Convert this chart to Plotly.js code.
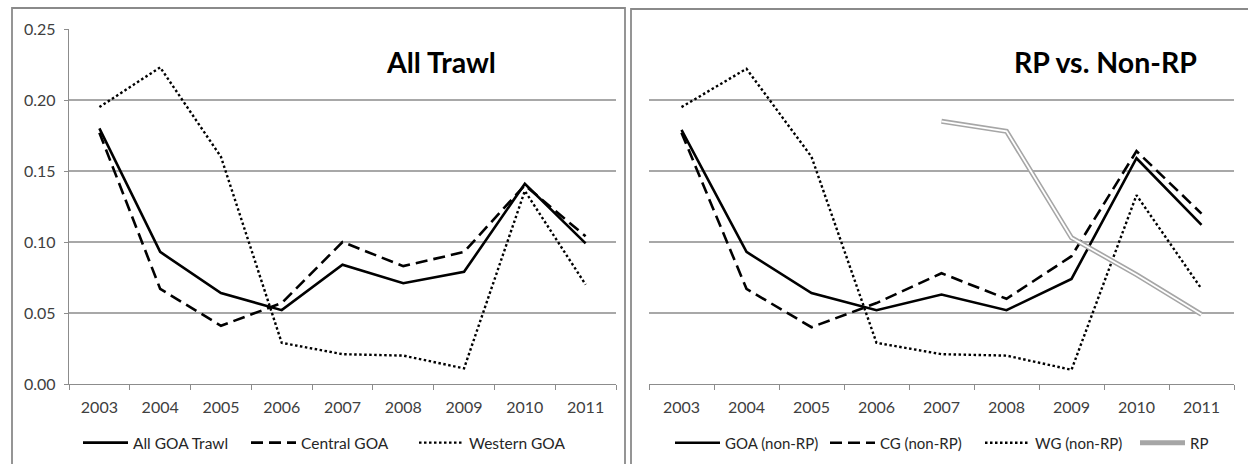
<!DOCTYPE html>
<html>
<head>
<meta charset="utf-8">
<script src="https://cdn.plot.ly/plotly-3.0.1.min.js"></script>
<style>html,body{margin:0;padding:0;background:#fff;}#chart{width:1248px;height:464px;}</style>
</head>
<body>
<div id="chart"></div>
<script>
// ---- data ----
var years = ['2003','2004','2005','2006','2007','2008','2009','2010','2011'];
// Left panel: All Trawl
var allGoaTrawl = [0.180, 0.093, 0.064, 0.052, 0.084, 0.071, 0.079, 0.141, 0.099];
var centralGoa  = [0.177, 0.067, 0.041, 0.057, 0.100, 0.083, 0.093, 0.140, 0.104];
var westernGoa  = [0.195, 0.223, 0.160, 0.029, 0.021, 0.020, 0.011, 0.136, 0.070];
// Right panel: RP vs. Non-RP
var goaNonRP = [0.179, 0.093, 0.064, 0.052, 0.063, 0.052, 0.074, 0.159, 0.112];
var cgNonRP  = [0.177, 0.067, 0.040, 0.057, 0.078, 0.060, 0.090, 0.164, 0.120];
var wgNonRP  = [0.195, 0.222, 0.160, 0.029, 0.021, 0.020, 0.010, 0.133, 0.067];
var rp       = [null, null, null, null, 0.185, 0.178, 0.103, 0.077, 0.049];
var yTicks = [0, 0.05, 0.10, 0.15, 0.20, 0.25];

var W = 1248, H = 464;
function px(x){ return x / W; }
function py(y){ return 1 - y / H; }

var dashPat = '12px,6px';
var dotPat = '2.5px,2.5px';
var FONT = 'Lato, "DejaVu Sans", sans-serif';

var traces = [
  {x: years, y: allGoaTrawl, name: 'All GOA Trawl', type: 'scatter', mode: 'lines', xaxis: 'x', yaxis: 'y', legend: 'legend',
   line: {color: '#000', width: 2.6}},
  {x: years, y: centralGoa, name: 'Central GOA', type: 'scatter', mode: 'lines', xaxis: 'x', yaxis: 'y', legend: 'legend',
   line: {color: '#000', width: 2.6, dash: dashPat}},
  {x: years, y: westernGoa, name: 'Western GOA', type: 'scatter', mode: 'lines', xaxis: 'x', yaxis: 'y', legend: 'legend',
   line: {color: '#000', width: 2.4, dash: dotPat}},
  {x: years, y: goaNonRP, name: 'GOA (non-RP)', type: 'scatter', mode: 'lines', xaxis: 'x2', yaxis: 'y2', legend: 'legend2',
   line: {color: '#000', width: 2.6}},
  {x: years, y: cgNonRP, name: 'CG (non-RP)', type: 'scatter', mode: 'lines', xaxis: 'x2', yaxis: 'y2', legend: 'legend2',
   line: {color: '#000', width: 2.6, dash: dashPat}},
  {x: years, y: wgNonRP, name: 'WG (non-RP)', type: 'scatter', mode: 'lines', xaxis: 'x2', yaxis: 'y2', legend: 'legend2',
   line: {color: '#000', width: 2.4, dash: dotPat}},
  {x: years, y: rp, name: 'RP', type: 'scatter', mode: 'lines', xaxis: 'x2', yaxis: 'y2', legend: 'legend2',
   line: {color: '#a6a6a6', width: 5}},
  {x: years, y: rp, name: 'RP', type: 'scatter', mode: 'lines', xaxis: 'x2', yaxis: 'y2', showlegend: false, hoverinfo: 'skip',
   line: {color: '#ffffff', width: 1.8}}
];

var tickFont = {family: FONT, size: 16, color: '#404040'};
var gridC = '#a8a8a8';
var axC = '#8c8c8c';

function xAxis(domain, anchor){
  return {domain: domain, anchor: anchor, type: 'category', range: [-0.5, 8.5],
    showline: true, linecolor: axC, linewidth: 1.2, ticks: 'outside', tickson: 'boundaries',
    ticklen: 5, tickcolor: axC, tickwidth: 1, showgrid: false, zeroline: false,
    ticklabelstandoff: 9, tickfont: tickFont, fixedrange: true};
}
function yAxis(domain, anchor, showLabels){
  return {domain: domain, anchor: anchor, range: [0, 0.25], tickvals: yTicks, tickformat: '.2f',
    showgrid: true, gridcolor: gridC, gridwidth: 1.2, zeroline: false,
    showline: showLabels, linecolor: axC, linewidth: 1.2,
    ticks: showLabels ? 'outside' : '', ticklen: 4, tickcolor: axC,
    ticklabelstandoff: 5,
    showticklabels: showLabels, tickfont: tickFont, fixedrange: true};
}

var yDom = [py(384), py(29)];
var layout = {
  width: W, height: H,
  margin: {l: 0, r: 0, t: 0, b: 0, autoexpand: false},
  paper_bgcolor: '#fff', plot_bgcolor: '#fff',
  font: {family: FONT, color: '#000'},
  xaxis: xAxis([px(69), px(616)], 'y'),
  yaxis: yAxis(yDom, 'x', true),
  xaxis2: xAxis([px(649), px(1234)], 'y2'),
  yaxis2: yAxis(yDom, 'x2', false),
  legend: {orientation: 'h', x: px(78), y: py(443), xanchor: 'left', yanchor: 'middle',
    font: {family: FONT, size: 15.5, color: '#262626'}, itemwidth: 45, entrywidth: 108,
    bgcolor: 'rgba(0,0,0,0)'},
  legend2: {orientation: 'h', x: px(670), y: py(443), xanchor: 'left', yanchor: 'middle',
    font: {family: FONT, size: 15, color: '#262626'}, itemwidth: 45, entrywidth: 95,
    bgcolor: 'rgba(0,0,0,0)'},
  annotations: [
    {text: '<b>All Trawl</b>', xref: 'paper', yref: 'paper', x: px(441), y: py(62), xanchor: 'center', yanchor: 'middle',
     showarrow: false, font: {family: FONT, size: 28.5, color: '#000'}},
    {text: '<b>RP vs. Non-RP</b>', xref: 'paper', yref: 'paper', x: px(1105), y: py(62), xanchor: 'center', yanchor: 'middle',
     showarrow: false, font: {family: FONT, size: 28.5, color: '#000'}}
  ],
  shapes: [
    {type: 'rect', xref: 'paper', yref: 'paper', x0: px(12), x1: px(625), y0: -0.05, y1: py(8),
     line: {color: '#8a8a8a', width: 1.8}, fillcolor: 'rgba(0,0,0,0)', layer: 'below'},
    {type: 'rect', xref: 'paper', yref: 'paper', x0: px(631), x1: 1.05, y0: -0.05, y1: py(9),
     line: {color: '#8a8a8a', width: 1.8}, fillcolor: 'rgba(0,0,0,0)', layer: 'below'}
  ],
  showlegend: true,
  hovermode: false
};

Plotly.newPlot('chart', traces, layout, {displayModeBar: false, staticPlot: true});
</script>
</body>
</html>
